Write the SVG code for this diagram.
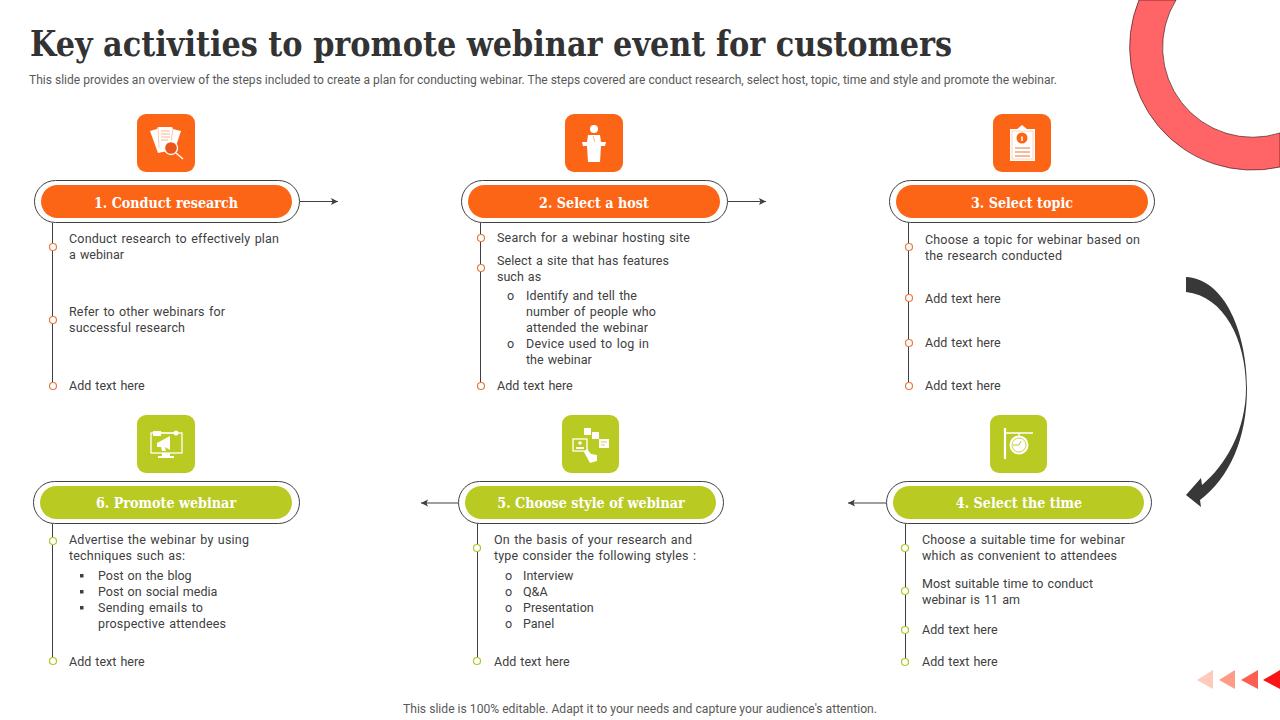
<svg xmlns="http://www.w3.org/2000/svg" width="1280" height="720" viewBox="0 0 1280 720">
<style>
text{font-family:Roboto,"Liberation Sans",sans-serif;font-size:12.5px;word-spacing:1px;fill:#404040}
.h{font-family:"DejaVu Serif Condensed","DejaVu Serif",serif;font-weight:700;font-size:14.2px;word-spacing:0;fill:#fff;text-anchor:middle}
.o{fill:none;stroke:#404040;stroke-width:1}
.line{stroke:#404040;stroke-width:1;fill:none}
.do{fill:#fff;stroke:#e8793f;stroke-width:1.2}
.dg{fill:#fff;stroke:#b5c427;stroke-width:1.2}
.bo{fill:#fd6516}.bg{fill:#b9ca23}
.w{fill:#fff;stroke:none}.ws{fill:none;stroke:#fff;stroke-width:1.3}
.small{font-size:12px;word-spacing:0;fill:#595959}
</style>
<defs><marker id="a" markerWidth="8" markerHeight="8" refX="7" refY="3.500" orient="auto" markerUnits="userSpaceOnUse"><path d="M0 0L7 3.500L0 7L1.500 3.500Z" fill="#404040"/></marker></defs>
<rect width="1280" height="720" fill="#fff"/>
<path id="ring" d="M1139 0A123 123 0 0 0 1280 167V133A90 90 0 0 1 1176 0Z" fill="#ff6567" stroke="#4a1c1c" stroke-width=".7"/>
<text x="30" y="56" textLength="922" lengthAdjust="spacingAndGlyphs" style="font-family:'DejaVu Serif Condensed','DejaVu Serif',serif;font-weight:700;font-size:36px;word-spacing:0;fill:#333">Key activities to promote webinar event for customers</text>
<text class="small" x="29" y="84" textLength="1028" lengthAdjust="spacingAndGlyphs">This slide provides an overview of the steps included to create a plan for conducting webinar. The steps covered are conduct research, select host, topic, time and style and promote the webinar.</text>
<g id="connectors">
<path class="line" marker-end="url(#a)" d="M300 201.500H338"/><path class="line" marker-end="url(#a)" d="M728 201.500H766"/>
<path class="line" marker-end="url(#a)" d="M458 503H421"/><path class="line" marker-end="url(#a)" d="M886 503H848"/>
<path class="line" d="M52.500 223V386M480.500 223V386M908.500 223V386M52.500 524V661M477.500 524V661M905.500 524V662"/>
<path id="curve" d="M1186 277C1226 279 1247 335 1247 388C1247 440 1229 478 1200 500L1201 507L1186 495L1201 478L1202 485C1226 465 1246 430 1246 388C1246 340 1224 296 1186 292Z" fill="#383838"/>
</g>
<g id="n1"><rect x="137" y="114" width="58" height="58" rx="9" class="bo"/>
<path class="w" d="M150 131L157 129L158 127H172L173 129L181 131L176 146L172 150L158 153Z"/><path d="M158 127L159 148M173 129L171 142" stroke="#f9b58f" stroke-width=".7"/><circle cx="171" cy="148" r="6.500" fill="#e8571a" stroke="#fff" stroke-width="1.300"/><path d="M176 153L183 159" stroke="#fff" stroke-width="1.500"/><path d="M161 131H170M161 134H170M161 137H170M161 140H168" stroke="#f9b58f"/>
<rect x="34.500" y="180.500" width="265" height="42" rx="21" class="o"/><rect x="41" y="185" width="251" height="33" rx="16.500" class="bo"/><text class="h" x="166" y="207.500">1. Conduct research</text>
<circle class="do" cx="53" cy="247" r="3.500"/><circle class="do" cx="53" cy="320" r="3.500"/><circle class="do" cx="53" cy="386" r="3.500"/>
<text x="69" y="243" textLength="210">Conduct research to effectively  plan</text><text x="69" y="259">a webinar</text><text x="69" y="316" textLength="156">Refer to other webinars for</text><text x="69" y="332" textLength="116">successful research</text><text x="69" y="390">Add text here</text></g>
<g id="n2"><rect x="565" y="114" width="58" height="58" rx="9" class="bo"/>
<circle cx="594" cy="129" r="4" class="w"/><path class="w" d="M588 135H600L601 142H606L605 146H601L600 162H588L587 146H583L582 142H587Z"/><path d="M593 136L595 142" stroke="#f9b58f"/>
<rect x="461.500" y="180.500" width="266" height="42" rx="21" class="o"/><rect x="468" y="185" width="252" height="33" rx="16.500" class="bo"/><text class="h" x="594" y="207.500">2. Select a host</text>
<circle class="do" cx="481" cy="238" r="3.500"/><circle class="do" cx="481" cy="268" r="3.500"/><circle class="do" cx="481" cy="386" r="3.500"/>
<text x="497" y="242" textLength="193">Search for a webinar hosting site</text><text x="497" y="265" textLength="172">Select a site that has features</text><text x="497" y="281">such as</text>
<text x="507" y="300">o</text><text x="526" y="300" textLength="111">Identify and tell the</text><text x="526" y="316" textLength="130">number of people who</text><text x="526" y="332" textLength="122">attended the webinar</text><text x="507" y="348">o</text><text x="526" y="348" textLength="123">Device used to log in</text><text x="526" y="364">the webinar</text><text x="497" y="390">Add text here</text></g>
<g id="n3"><rect x="993" y="114" width="58" height="58" rx="9" class="bo"/>
<rect x="1010" y="129" width="25" height="32" class="w"/><path class="w" d="M1016 130L1022 125L1028 130Z"/><rect x="1012" y="131" width="21" height="28" fill="#fff" stroke="#f9b58f" stroke-width=".6"/><circle cx="1022" cy="138" r="5.500" fill="#fd6516"/><path d="M1022 136.500V141" stroke="#fff" stroke-width="1.500"/><path d="M1015 148H1030M1015 152H1030M1015 156H1030" stroke="#e8793f"/>
<rect x="889.500" y="180.500" width="265" height="42" rx="21" class="o"/><rect x="896" y="185" width="252" height="33" rx="16.500" class="bo"/><text class="h" x="1022" y="207.500">3. Select topic</text>
<circle class="do" cx="909" cy="247" r="3.500"/><circle class="do" cx="909" cy="298" r="3.500"/><circle class="do" cx="909" cy="343" r="3.500"/><circle class="do" cx="909" cy="386" r="3.500"/>
<text x="925" y="244" textLength="215">Choose a topic for webinar based on</text><text x="925" y="260" textLength="137">the research conducted</text><text x="925" y="303">Add text here</text><text x="925" y="347">Add text here</text><text x="925" y="390">Add text here</text></g>
<g id="n4"><rect x="990" y="415" width="57" height="58" rx="9" class="bg"/>
<path class="ws" d="M1005 428V459" style="stroke-width:2.200"/><path class="ws" d="M1004 433H1033M1019 433V437"/><circle cx="1019" cy="445" r="9.500" class="w"/><circle cx="1019" cy="445" r="7" fill="none" stroke="#b9ca23" stroke-width=".8"/><path d="M1021 441L1019 445H1013" fill="none" stroke="#b9ca23"/>
<rect x="886.500" y="481.500" width="265" height="42" rx="21" class="o"/><rect x="893" y="486" width="251" height="33" rx="16.500" class="bg"/><text class="h" x="1019" y="508">4. Select the time</text>
<circle class="dg" cx="905" cy="548" r="3.500"/><circle class="dg" cx="905" cy="591" r="3.500"/><circle class="dg" cx="905" cy="630" r="3.500"/><circle class="dg" cx="905" cy="662" r="3.500"/>
<text x="922" y="544" textLength="203">Choose a suitable time for webinar</text><text x="922" y="560" textLength="195">which as convenient  to attendees</text><text x="922" y="588" textLength="171">Most suitable time to conduct</text><text x="922" y="604" textLength="98">webinar is 11 am</text><text x="922" y="634">Add text here</text><text x="922" y="666">Add text here</text></g>
<g id="n5"><rect x="562" y="415" width="57" height="58" rx="9" class="bg"/>
<rect x="573" y="439" width="14" height="12" class="ws"/><circle cx="580" cy="443" r="1.800" class="w"/><path class="w" d="M576 449H584V447H576Z"/><rect x="584" y="428" width="7" height="7" class="w"/><rect x="592" y="432" width="7" height="7" class="w"/><rect x="599" y="439" width="10" height="9" class="w"/><path d="M601 442H607M601 445H605" stroke="#b9ca23" stroke-width=".8"/><path class="w" d="M584 452L587 449L591 454L597 455L597 461L590 463Z"/>
<rect x="458.500" y="481.500" width="265" height="42" rx="21" class="o"/><rect x="465" y="486" width="251" height="33" rx="16.500" class="bg"/><text class="h" x="591" y="508">5. Choose style of webinar</text>
<circle class="dg" cx="477" cy="548" r="3.500"/><circle class="dg" cx="477" cy="661" r="3.500"/>
<text x="494" y="544" textLength="198">On the basis of your research and</text><text x="494" y="560" textLength="202">type consider the following  styles :</text>
<text x="505" y="580">o</text><text x="523" y="580">Interview</text><text x="505" y="596">o</text><text x="523" y="596">Q&amp;A</text><text x="505" y="612">o</text><text x="523" y="612">Presentation</text><text x="505" y="628">o</text><text x="523" y="628">Panel</text><text x="494" y="666">Add text here</text></g>
<g id="n6"><rect x="137" y="415" width="58" height="58" rx="9" class="bg"/>
<rect x="151" y="433" width="31" height="20" class="ws"/><path class="w" d="M157 443L170 436V450L165 447L166 451L162 451L161 447H157ZM162 453H170V456H174V458H158V456H162Z"/><rect x="153" y="431" width="8" height="5" class="w"/><circle cx="176" cy="433" r="2.500" class="w"/><path d="M160 433H174" stroke="#fff"/>
<rect x="33.500" y="481.500" width="266" height="42" rx="21" class="o"/><rect x="40" y="486" width="252" height="33" rx="16.500" class="bg"/><text class="h" x="166" y="508">6. Promote webinar</text>
<circle class="dg" cx="53" cy="541" r="3.500"/><circle class="dg" cx="53" cy="661" r="3.500"/>
<text x="69" y="544" textLength="180">Advertise the webinar by using</text><text x="69" y="560" textLength="116">techniques such as:</text>
<rect x="80" y="574" width="3.500" height="3.500" fill="#404040"/><text x="98" y="580">Post on the blog</text><rect x="80" y="590" width="3.500" height="3.500" fill="#404040"/><text x="98" y="596">Post on social media</text><rect x="80" y="606" width="3.500" height="3.500" fill="#404040"/><text x="98" y="612" textLength="105">Sending emails to</text><text x="98" y="628" textLength="128">prospective attendees</text><text x="69" y="666">Add text here</text></g>
<g id="deco"><path d="M1197 680L1213 670V689Z" fill="#fdcabb"/><path d="M1219 680L1235 670V689Z" fill="#fd9d88"/><path d="M1241 680L1258 670V689Z" fill="#fc5f50"/><path d="M1263 680L1280 670V689Z" fill="#f81414"/></g>
<text class="small" x="403" y="713" textLength="474" lengthAdjust="spacingAndGlyphs">This slide is 100% editable. Adapt it to your needs and capture your audience's attention.</text>
</svg>
